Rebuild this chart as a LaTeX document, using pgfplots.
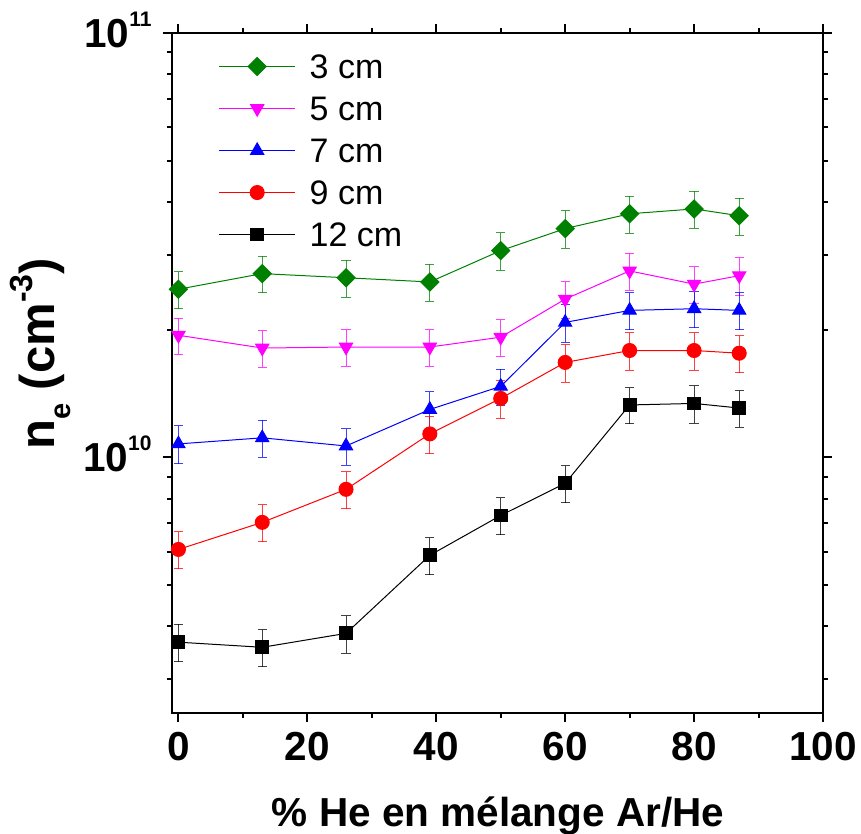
\documentclass[border=0pt]{standalone}
\usepackage{fontspec}
\setmainfont{Liberation Sans}
\usepackage{pgfplots}
\usepackage{pgfplotstable}
\pgfplotsset{compat=1.18}
\definecolor{cgreen}{RGB}{0,128,0}
\definecolor{cmag}{RGB}{255,0,255}
\definecolor{cblue}{RGB}{0,0,255}
\definecolor{cred}{RGB}{255,0,0}

\pgfplotstableread{
x y e
0 2.49e10 2.5e9
13 2.71e10 2.7e9
26 2.65e10 2.65e9
39 2.59e10 2.6e9
50 3.07e10 3.1e9
60 3.46e10 3.5e9
70 3.75e10 3.75e9
80 3.85e10 3.85e9
87 3.71e10 3.7e9
}\dthree
\pgfplotstableread{
x y e
0 1.94e10 1.9e9
13 1.81e10 1.8e9
26 1.82e10 1.8e9
39 1.82e10 1.8e9
50 1.92e10 1.9e9
60 2.36e10 2.35e9
70 2.75e10 2.75e9
80 2.56e10 2.55e9
87 2.68e10 2.7e9
}\dfive
\pgfplotstableread{
x y e
0 1.076e10 1.1e9
13 1.112e10 1.1e9
26 1.064e10 1.05e9
39 1.297e10 1.3e9
50 1.470e10 1.45e9
60 2.08e10 2.1e9
70 2.22e10 2.2e9
80 2.24e10 2.2e9
87 2.22e10 2.2e9
}\dseven
\pgfplotstableread{
x y e
0 6.07e9 6.1e8
13 7.03e9 7.0e8
26 8.41e9 8.4e8
39 1.136e10 1.15e9
50 1.377e10 1.4e9
60 1.674e10 1.7e9
70 1.786e10 1.8e9
80 1.786e10 1.8e9
87 1.76e10 1.75e9
}\dnine
\pgfplotstableread{
x y e
0 3.67e9 3.7e8
13 3.57e9 3.6e8
26 3.85e9 3.9e8
39 5.88e9 5.9e8
50 7.30e9 7.3e8
60 8.69e9 8.7e8
70 1.329e10 1.3e9
80 1.340e10 1.35e9
87 1.307e10 1.3e9
}\dtwelve

\begin{document}
\begin{tikzpicture}
\begin{axis}[
  scale only axis, width=325.5pt, height=340pt,
  xmin=-1, xmax=100, ymode=log, ymin=2.5e9, ymax=1e11,
  xtick={0,20,40,60,80,100}, minor xtick={10,30,50,70,90},
  ytick={1e10,1e11},
  minor ytick={3e9,4e9,5e9,6e9,7e9,8e9,9e9,2e10,3e10,4e10,5e10,6e10,7e10,8e10,9e10},
  yticklabels={10\raisebox{10.5pt}{\fontsize{10.5}{12}\selectfont 10},10\raisebox{10.5pt}{\fontsize{10.5}{12}\selectfont 11}},
  tick align=outside, major tick length=4.5pt, minor tick length=2.5pt,
  axis line style={line width=1pt}, every tick/.style={line width=1pt, black},
  /pgf/number format/assume math mode=true,
  ticklabel style={font=\bfseries\fontsize{20.25}{22}\selectfont},
  xticklabel style={inner sep=0pt, yshift=-5pt},
  yticklabel style={inner sep=0pt, anchor=base east, yshift=-7.25pt, xshift=-5.5pt},
  xlabel={\% He en mélange Ar/He},
  xlabel style={font=\bfseries\fontsize{20.25}{22}\selectfont, at={(axis description cs:0.5008,-0.1676)}, anchor=base},
  ylabel={n\raisebox{-8pt}{\fontsize{14.5}{15}\selectfont e} (cm\raisebox{11pt}{\fontsize{16}{16}\selectfont -3})},
  ylabel style={font=\bfseries\fontsize{24.5}{26}\selectfont, at={(axis description cs:-0.2023,0.528)}, anchor=center},
  legend style={at={(axis description cs:0.0711,0.975)}, anchor=north west, draw=none, fill=none,
    font=\fontsize{17}{17}\selectfont, inner sep=0pt, row sep=4.8pt,
    nodes={inner sep=2pt, text height=12.2pt, text depth=0pt}},
  legend cell align=left,
  legend image code/.code={\draw[mark repeat=2,mark phase=2] plot coordinates {(0pt,0pt) (19pt,0pt) (38pt,0pt)};\path (43pt,0pt);},
  error bars/y dir=both, error bars/y explicit,
  every axis plot/.append style={line width=0.5pt},
]
\addplot[cgreen, mark=square*, mark size=3.2pt, mark options={rotate=45, fill=cgreen},
  error bars/.cd, error bar style={line width=0.5pt, opacity=0.75}, error mark options={rotate=90, mark size=2.3pt, line width=0.5pt, cgreen}]
  table[x=x, y=y, y error=e]{\dthree};
\addlegendentry{3 cm}
\addplot[cmag, mark=triangle*, mark size=3.8pt, mark options={rotate=180, fill=cmag},
  error bars/.cd, error bar style={line width=0.5pt, opacity=0.75}, error mark options={rotate=90, mark size=2.3pt, line width=0.5pt, cmag}]
  table[x=x, y=y, y error=e]{\dfive};
\addlegendentry{5 cm}
\addplot[cblue, mark=triangle*, mark size=3.8pt, mark options={fill=cblue},
  error bars/.cd, error bar style={line width=0.5pt, opacity=0.75}, error mark options={rotate=90, mark size=2.3pt, line width=0.5pt, cblue}]
  table[x=x, y=y, y error=e]{\dseven};
\addlegendentry{7 cm}
\addplot[cred, mark=*, mark size=3.5pt, mark options={fill=cred},
  error bars/.cd, error bar style={line width=0.5pt, opacity=0.75}, error mark options={rotate=90, mark size=2.3pt, line width=0.5pt, cred}]
  table[x=x, y=y, y error=e]{\dnine};
\addlegendentry{9 cm}
\addplot[black, mark=square*, mark size=3.2pt, mark options={fill=black},
  error bars/.cd, error bar style={line width=0.5pt, opacity=0.75}, error mark options={rotate=90, mark size=2.3pt, line width=0.5pt, black}]
  table[x=x, y=y, y error=e]{\dtwelve};
\addlegendentry{12 cm}
\end{axis}
\pgfresetboundingbox
\path[use as bounding box] (-86pt,-60.5pt) rectangle (344.5pt,356.5pt);
\end{tikzpicture}
\end{document}
